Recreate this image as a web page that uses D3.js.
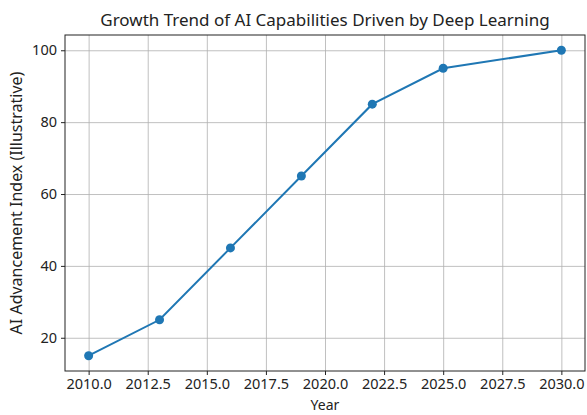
<!DOCTYPE html>
<html>
<head>
<meta charset="utf-8">
<script src="https://cdn.jsdelivr.net/npm/d3@7"></script>
<style>
  body { margin: 0; background: #fff; }
  text { font-family: "Noto Sans", sans-serif; fill: #222; }
</style>
</head>
<body>
<div id="chart"></div>
<script>
// data
var years = [2010, 2013, 2016, 2019, 2022, 2025, 2030];
var index = [15, 25, 45, 65, 85, 95, 100];
var xTicks = [2010, 2012.5, 2015, 2017.5, 2020, 2022.5, 2025, 2027.5, 2030];
var yTicks = [20, 40, 60, 80, 100];

var width = 587, height = 415;
// plot box (note: "top" is reserved on window, so use padTop etc)
var padLeft = 65, padRight = 585, padTop = 35, padBottom = 371;

var svg = d3.select("#chart").append("svg")
  .attr("width", width)
  .attr("height", height);

var xScale = d3.scaleLinear().domain([2009, 2031]).range([padLeft, padRight]);
var yScale = d3.scaleLinear().domain([10.75, 104.25]).range([padBottom, padTop]);

// grid
svg.append("g")
  .attr("transform", "translate(0," + padBottom + ")")
  .call(d3.axisBottom(xScale).tickValues(xTicks).tickSize(-(padBottom - padTop)).tickFormat(""))
  .call(function(g){ g.select(".domain").remove(); })
  .selectAll("line").attr("stroke", "#b0b0b0").attr("stroke-width", 0.8);
svg.append("g")
  .attr("transform", "translate(" + padLeft + ",0)")
  .call(d3.axisLeft(yScale).tickValues(yTicks).tickSize(-(padRight - padLeft)).tickFormat(""))
  .call(function(g){ g.select(".domain").remove(); })
  .selectAll("line").attr("stroke", "#b0b0b0").attr("stroke-width", 0.8);

// axes
var xAxis = svg.append("g")
  .attr("transform", "translate(0," + padBottom + ")")
  .call(d3.axisBottom(xScale).tickValues(xTicks).tickSize(4).tickPadding(4)
    .tickFormat(d3.format(".1f")));
var yAxis = svg.append("g")
  .attr("transform", "translate(" + padLeft + ",0)")
  .call(d3.axisLeft(yScale).tickValues(yTicks).tickSize(4).tickPadding(4)
    .tickFormat(d3.format("d")));
[xAxis, yAxis].forEach(function(a){
  a.selectAll("text").style("font-size", "14.5px").style("font-family", "Noto Sans").attr("fill", "#222");
  a.selectAll("line").attr("stroke", "#222");
  a.select(".domain").remove();
});

// frame
svg.append("rect")
  .attr("x", padLeft).attr("y", padTop)
  .attr("width", padRight - padLeft).attr("height", padBottom - padTop)
  .attr("fill", "none").attr("stroke", "#222").attr("stroke-width", 1);

// line + markers
var pts = years.map(function(y, i){ return [y, index[i]]; });
svg.append("path")
  .datum(pts)
  .attr("fill", "none")
  .attr("stroke", "#1f77b4")
  .attr("stroke-width", 2)
  .attr("d", d3.line().x(function(d){ return xScale(d[0]); }).y(function(d){ return yScale(d[1]); }));
svg.selectAll("circle.pt")
  .data(pts)
  .enter().append("circle")
  .attr("class", "pt")
  .attr("r", 4.5)
  .attr("fill", "#1f77b4")
  .attr("cx", function(d){ return xScale(d[0]); })
  .attr("cy", function(d){ return yScale(d[1]); });

// labels
svg.append("text")
  .text("Growth Trend of AI Capabilities Driven by Deep Learning")
  .attr("x", (padLeft + padRight) / 2).attr("y", 26)
  .attr("text-anchor", "middle")
  .style("font-size", "17px");
svg.append("text")
  .text("Year")
  .attr("x", (padLeft + padRight) / 2).attr("y", 410)
  .attr("text-anchor", "middle")
  .style("font-size", "14px");
svg.append("text")
  .text("AI Advancement Index (Illustrative)")
  .attr("transform", "translate(22," + ((padTop + padBottom) / 2) + ") rotate(-90)")
  .attr("text-anchor", "middle")
  .style("font-size", "16px");
</script>
</body>
</html>
